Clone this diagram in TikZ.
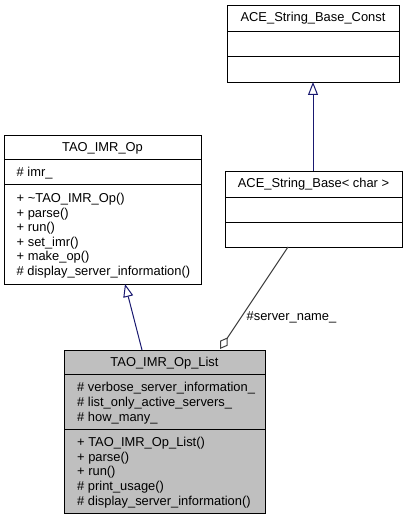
\documentclass[tikz,border=0pt]{standalone}
\usepackage{fontspec}
\setmainfont{Liberation Sans}
\usetikzlibrary{arrows.meta}
\definecolor{navyarrow}{HTML}{191970}
\definecolor{greyline}{HTML}{404040}
\definecolor{boxgrey}{HTML}{BFBFBF}
\begin{document}
\begin{tikzpicture}[x=1bp,y=-1bp,
  every node/.style={font=\fontsize{12.9bp}{14.6bp}\selectfont, inner sep=0pt},
  umlbox/.style={draw=black, line width=1bp, anchor=north west, minimum width=#1},
  title/.style={anchor=base},
  member/.style={anchor=base west},
  inherit/.style={draw=navyarrow, line width=1bp, -{Triangle[open, length=13bp, width=10bp, fill=white]}},
  compose/.style={draw=greyline, line width=1bp, {Diamond[open, length=14bp, width=9bp, fill=white]}-}
]
\useasboundingbox (0,0) rectangle (407,520);

% ACE_String_Base_Const
\node[umlbox=172bp, minimum height=77bp] (constbox) at (227,5) {};
\draw[line width=1bp] (227,32) -- (399,32);
\draw[line width=1bp] (227,57) -- (399,57);
\node[title] (constT) at (313,22) {ACE\_String\_Base\_Const};

% ACE_String_Base<char>
\node[umlbox=177bp, minimum height=76bp] (sbbox) at (225,171) {};
\draw[line width=1bp] (225,197) -- (402,197);
\draw[line width=1bp] (225,222) -- (402,222);
\node[title] (sbT) at (313.5,187.5) {ACE\_String\_Base< char >};

% TAO_IMR_Op
\node[umlbox=197bp, minimum height=149bp] (opbox) at (4,135) {};
\draw[line width=1bp] (4,160) -- (201,160);
\draw[line width=1bp] (4,185) -- (201,185);
\node[title] (opT) at (102.5,151.5) {TAO\_IMR\_Op};
\node[member] (op1) at (16.5,177) {\# imr\_};
\node[member] (op2) at (16.5,202.5) {+ \textasciitilde TAO\_IMR\_Op()};
\node[member] (op3) at (16.5,217) {+ parse()};
\node[member] (op4) at (16.5,231.5) {+ run()};
\node[member] (op5) at (16.5,246) {+ set\_imr()};
\node[member] (op6) at (16.5,260.5) {+ make\_op()};
\node[member] (op7) at (16.5,275.5) {\# display\_server\_information()};

% TAO_IMR_Op_List
\node[umlbox=201bp, minimum height=163bp, fill=boxgrey] (listbox) at (64,350) {};
\draw[line width=1bp] (64,374) -- (265,374);
\draw[line width=1bp] (64,429) -- (265,429);
\node[title] (listT) at (164.5,366.5) {TAO\_IMR\_Op\_List};
\node[member] (la1) at (77,391.5) {\# verbose\_server\_information\_};
\node[member] (la2) at (77,406) {\# list\_only\_active\_servers\_};
\node[member] (la3) at (77,421) {\# how\_many\_};
\node[member] (lm1) at (77,446.5) {+ TAO\_IMR\_Op\_List()};
\node[member] (lm2) at (77,461) {+ parse()};
\node[member] (lm3) at (77,475.5) {+ run()};
\node[member] (lm4) at (77,490.5) {\# print\_usage()};
\node[member] (lm5) at (77,505) {\# display\_server\_information()};

% connectors
\coordinate (sbTop) at (313,171);
\coordinate (constBot) at (313,82);
\coordinate (listTop) at (142,350);
\coordinate (opBot) at (125,284);
\coordinate (listDia) at (220,349);
\coordinate (sbBot) at (288,247);
\draw[inherit] (sbTop) -- (constBot);
\draw[inherit] (listTop) -- (opBot);
\draw[compose] (listDia) -- (sbBot);
\node[anchor=west] (lbl) at (246.5,317) {\#server\_name\_};
\end{tikzpicture}
\end{document}
